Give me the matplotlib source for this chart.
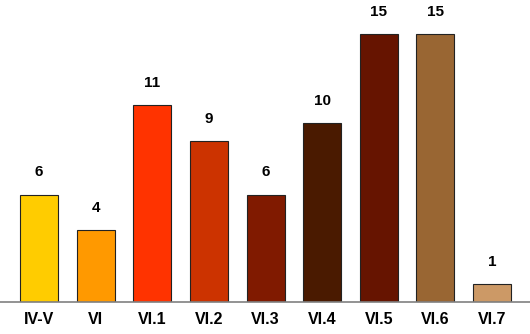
import matplotlib.pyplot as plt

# Counts per phase
phases = ['IV-V', 'VI', 'VI.1', 'VI.2', 'VI.3', 'VI.4', 'VI.5', 'VI.6', 'VI.7']
counts = [6, 4, 11, 9, 6, 10, 15, 15, 1]
colors = ['#FFCC00', '#FF9900', '#FF3300', '#CC3300', '#801A00',
          '#4A1A00', '#661400', '#996633', '#CC9966']

plt.rcParams['font.family'] = ['Liberation Sans', 'DejaVu Sans']

fig = plt.figure(figsize=(5.3, 3.34), dpi=100)
ax = fig.add_axes([0, 0.096, 1, 0.904])

x = range(len(phases))
bars = ax.bar(x, counts, width=0.67, color=colors, edgecolor='#222222', linewidth=0.8)

for b, v in zip(bars, counts):
    ax.text(b.get_x() + b.get_width() / 2, v + 1.25, str(v), ha='center', va='center',
            fontsize=11, fontweight='bold')

ax.set_xlim(-0.69, 8.67)
ax.set_ylim(0, 16.9)
ax.set_xticks(list(x))
ax.set_xticklabels(phases, fontsize=11.5, fontweight='bold')
ax.tick_params(axis='x', length=0, pad=7)
ax.set_yticks([])
for s in ['top', 'right', 'left']:
    ax.spines[s].set_visible(False)
ax.spines['bottom'].set_color('#808080')
ax.spines['bottom'].set_linewidth(1.2)

fig.savefig('out.png', dpi=100)
